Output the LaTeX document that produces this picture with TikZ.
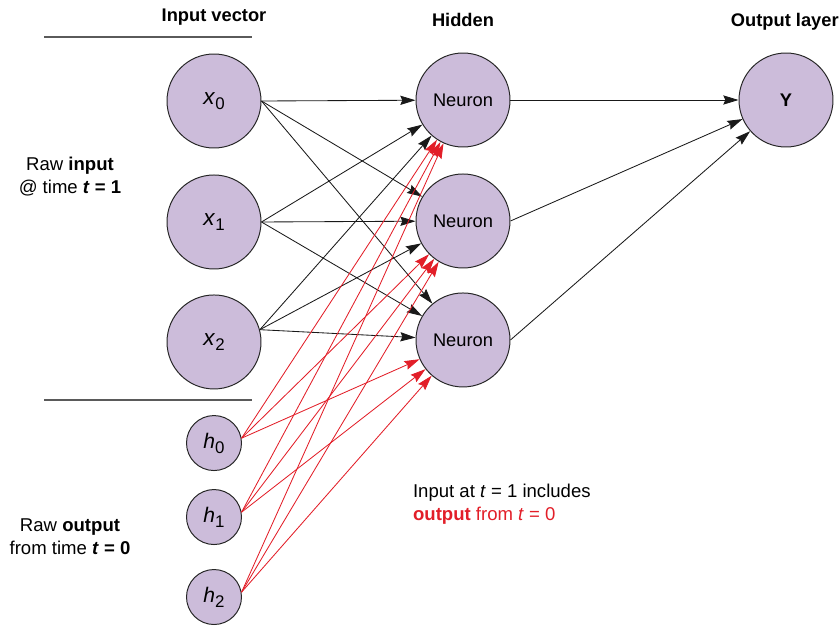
\documentclass[tikz,border=0pt]{standalone}
\usepackage{fontspec}
\setsansfont{Liberation Sans}
\usepackage{xcolor}
\usepackage{tikz}
\usetikzlibrary{arrows.meta,positioning}
\definecolor{cellfill}{RGB}{204,188,218}
\definecolor{recred}{RGB}{226,30,40}
\definecolor{rulegray}{RGB}{90,90,90}
\tikzset{
  unit/.style={circle, draw=black!85, fill=cellfill, line width=0.7pt,
               minimum size=2.35cm, inner sep=0pt,
               font=\fontsize{13}{15}\selectfont\sffamily},
  state/.style={circle, draw=black!85, fill=cellfill, line width=0.7pt,
                minimum size=1.375cm, inner sep=0pt,
                font=\fontsize{15}{17}\selectfont\sffamily},
  head/.style={font=\fontsize{13}{15}\selectfont\sffamily\bfseries},
  side/.style={align=center, font=\fontsize{13.2}{16.4}\selectfont\sffamily},
  rule/.style={draw=rulegray, line width=0.8pt},
  link/.style={-{Stealth[length=3.8mm,width=2.3mm,inset=0.5mm]}, line width=0.6pt, draw=black!90},
  recur/.style={-{Stealth[length=3.8mm,width=2.3mm,inset=0.5mm]}, line width=0.6pt, draw=recred}
}
\newcommand{\invar}[2]{{\fontsize{16}{18}\selectfont\textit{#1}}%
  \raisebox{-3.5pt}{\fontsize{12}{14}\selectfont #2}}
\newcommand{\stvar}[2]{{\fontsize{15}{17}\selectfont\textit{#1}}%
  \raisebox{-3.5pt}{\fontsize{12}{14}\selectfont #2}}

\begin{document}
\begin{tikzpicture}
\useasboundingbox (0,0) rectangle (21,-15.875);

% --- Input vector ---
\node[unit] (x0) at (5.35,-2.525) {\invar{x}{0}};
\node[unit, below=0.65cm of x0] (x1) {\invar{x}{1}};
\node[unit, below=0.625cm of x1] (x2) {\invar{x}{2}};

% --- Previous output ---
\node[state, below=0.64cm of x2] (h0) {\stvar{h}{0}};
\node[state, below=0.45cm of h0] (h1) {\stvar{h}{1}};
\node[state, below=0.6cm of h1] (h2) {\stvar{h}{2}};

% --- Hidden ---
\node[unit] (n1) at (11.575,-2.5) {Neuron};
\node[unit, below=0.65cm of n1] (n2) {Neuron};
\node[unit, below=0.6cm of n2] (n3) {Neuron};

% --- Output ---
\node[unit, font=\fontsize{13}{15}\selectfont\sffamily\bfseries] (y) at (19.65,-2.5) {Y};

% --- Headings ---
\node[head] (hin) at (5.35,-0.42) {Input vector};
\node[head] (hhid) at (11.575,-0.5) {Hidden};
\node[head] (hout) at (19.62,-0.55) {Output layer};

% --- Separators ---
\coordinate (ta) at (1.1,-0.925);
\coordinate (tb) at (6.3,-0.925);
\coordinate (ba) at (1.1,-10.0);
\coordinate (bb) at (6.3,-10.0);
\draw[rule] (ta) -- (tb);
\draw[rule] (ba) -- (bb);

% --- Side labels ---
\node[side] (rawin) at (1.75,-4.41)
  {Raw \textbf{input}\\@ time \textbf{\textit{t} = 1}};
\node[side] (rawout) at (1.75,-13.41)
  {Raw \textbf{output}\\from time \textbf{\textit{t} = 0}};

% --- Note ---
\node[side, align=left, anchor=west, inner sep=0pt] (note) at (10.32,-12.61)
  {Input at \textit{t} = 1 includes\\
   \textcolor{recred}{\textbf{output} from \textit{t} = 0}};

% --- Input arrows ---
\draw[link] (x0.east) -- (n1);
\draw[link] (x0.east) -- (n2);
\draw[link] (x0.east) -- (n3);
\draw[link] (x1.east) -- (n1);
\draw[link] (x1.east) -- (n2);
\draw[link] (x1.east) -- (n3);
\draw[link] (x2.15) -- (n1);
\draw[link] (x2.15) -- (n2);
\draw[link] (x2.15) -- (n3);

% --- Recurrent arrows ---
\draw[recur] (h0.10) -- (n1);
\draw[recur] (h0.10) -- (n2);
\draw[recur] (h0.10) -- (n3);
\draw[recur] (h1.10) -- (n1);
\draw[recur] (h1.10) -- (n2);
\draw[recur] (h1.10) -- (n3);
\draw[recur] (h2.10) -- (n1);
\draw[recur] (h2.10) -- (n2);
\draw[recur] (h2.10) -- (n3);

% --- Output arrows ---
\draw[link] (n1.east) -- (y);
\draw[link] (n2.east) -- (y);
\draw[link] (n3.east) -- (y);

\end{tikzpicture}
\end{document}
